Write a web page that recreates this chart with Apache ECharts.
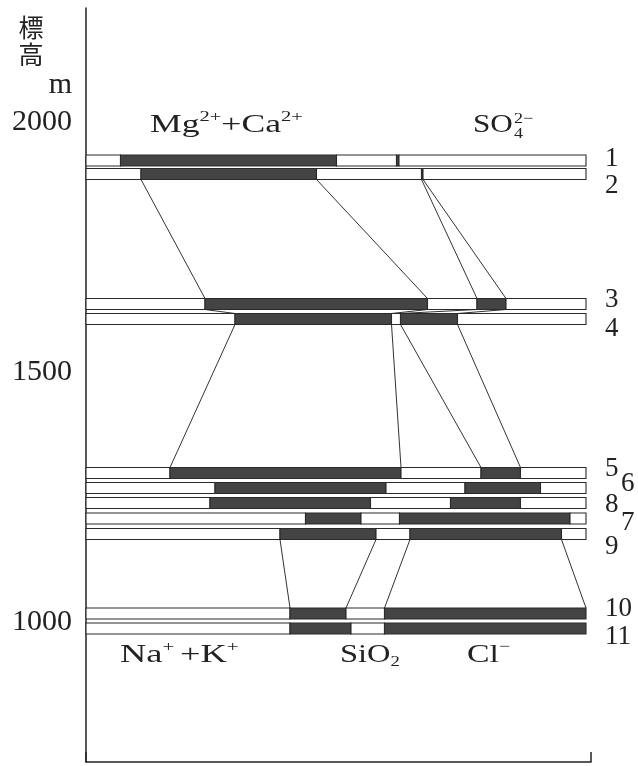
<!DOCTYPE html>
<html><head><meta charset="utf-8">
<script src="https://cdn.jsdelivr.net/npm/echarts@6/dist/echarts.min.js"></script>
<style>html,body{margin:0;padding:0;background:#fff}#c{width:638px;height:766px}</style>
</head><body><div id="c"></div>
<script>
// ---- data ----
const sampleNames = ['1','2','3','4','5','6','8','7','9','10','11'];
const elevations  = [1923,1896,1636,1606,1298,1268,1238,1207,1176,1017,987];
const naK  = [6.9,11.0,23.8,29.8,16.8,25.8,24.8,43.9,38.8,40.8,40.8];
const mgCa = [43.2,35.1,44.5,31.3,46.2,34.2,32.1,11.1,19.2,11.2,12.2];
const siO2 = [12.0,21.0,9.9,1.8,16.0,15.8,16.0,7.7,6.8,7.7,6.7];
const cl   = [0.5,0.3,5.8,11.4,7.9,15.1,14.0,34.1,30.3,40.3,40.3];
const so4  = [37.4,32.6,16.0,25.7,13.1,9.1,13.1,3.2,4.9,0,0];
const yTickLabels = [1000,1500,2000];
const links = [['2','3'],['3','4'],['4','5'],['9','10']];

// ---- style ----
const DARK = '#444', INK = '#222';
const SERIF = '"Liberation Serif","Times New Roman",serif';
const BAR_H = 11;
const labelDx = {'6':16,'7':16};
const labelDy = {'1':-2,'2':12,'3':-4,'4':10,'5':-4,'6':-4,'8':2,'7':4,'9':13,'10':-5,'11':8};

const comps = [naK, mgCa, siO2, cl, so4];
function bounds(i){ let s=0; const b=[0]; comps.forEach(c=>{s+=c[i]; b.push(s);}); return b; }

const segData = [];
sampleNames.forEach((n,i)=>{
  const b = bounds(i);
  for(let k=0;k<5;k++) segData.push([b[k], b[k+1], elevations[i], k, i]);
});
const labelData = sampleNames.map((n,i)=>[100, elevations[i], i]);
const linkData = [];
links.forEach(([u,l])=>{
  const iu = sampleNames.indexOf(u), il = sampleNames.indexOf(l);
  const bu = bounds(iu), bl = bounds(il);
  for(let k=1;k<=4;k++) linkData.push([bu[k], elevations[iu], bl[k], elevations[il]]);
});

const chart = echarts.init(document.getElementById('c'), null, {renderer:'canvas'});
chart.setOption({
  animation:false,
  backgroundColor:'#fff',
  grid:{left:86, top:8, right:47, bottom:4},
  xAxis:{type:'value', min:0, max:101, interval:101,
    axisLine:{show:true, lineStyle:{color:INK, width:1.5}},
    axisTick:{show:true, inside:true, length:10, lineStyle:{color:INK, width:1.5}},
    axisLabel:{show:false}, splitLine:{show:false}},
  yAxis:{type:'value', min:720, max:2228, interval:20,
    axisLine:{show:true, lineStyle:{color:INK, width:1.5}},
    axisTick:{show:false}, splitLine:{show:false},
    axisLabel:{margin:14, color:INK, fontFamily:SERIF, fontSize:30,
      formatter:v=> yTickLabels.includes(v) ? String(v) : ''}},
  series:[
    {type:'custom', name:'links', data:linkData, encode:{x:[0,2], y:[1,3]}, z:1,
     renderItem:(p,api)=>{
       const a = api.coord([api.value(0), api.value(1)]);
       const b = api.coord([api.value(2), api.value(3)]);
       return {type:'line', shape:{x1:a[0], y1:a[1]+BAR_H/2, x2:b[0], y2:b[1]-BAR_H/2},
               style:{stroke:'#333', lineWidth:1}};
     }},
    {type:'custom', name:'bars', data:segData, encode:{x:[0,1], y:2}, z:2,
     renderItem:(p,api)=>{
       const x0=api.value(0), x1=api.value(1), e=api.value(2), k=api.value(3);
       if (x1 - x0 <= 0) return null;
       const a = api.coord([x0,e]), b = api.coord([x1,e]);
       return {type:'rect', shape:{x:a[0], y:a[1]-BAR_H/2, width:b[0]-a[0], height:BAR_H},
               style:{fill: k%2 ? DARK : '#fff', stroke:'#2a2a2a', lineWidth:1.1}};
     }},
    {type:'custom', name:'names', data:labelData, encode:{x:0, y:1}, z:3,
     renderItem:(p,api)=>{
       const i = api.value(2), n = sampleNames[i];
       const a = api.coord([api.value(0), api.value(1)]);
       return {type:'text', x:a[0]+19+(labelDx[n]||0), y:a[1]+(labelDy[n]||0),
               style:{text:n, fill:INK, font:'27px '+SERIF, align:'left', verticalAlign:'middle'}};
     }}
  ],
  graphic:[
    {type:'text', x:31, y:27, style:{text:'標', fill:INK, font:'25px "Noto Sans CJK JP"', align:'center', verticalAlign:'middle'}},
    {type:'text', x:31, y:54, style:{text:'高', fill:INK, font:'25px "Noto Sans CJK JP"', align:'center', verticalAlign:'middle'}},
    {type:'text', x:72, y:85, style:{text:'m', fill:INK, font:'30px '+SERIF, align:'right', verticalAlign:'middle'}},
    {type:'text', x:150, y:125, scaleX:1.37, style:{text:'{b|Mg}{p|2+}{b|+Ca}{p|2+}', fill:INK, align:'left', verticalAlign:'middle',
      rich:{b:{fontSize:26, fontFamily:SERIF, lineHeight:30, fill:INK}, p:{fontSize:15, fontFamily:SERIF, lineHeight:18, verticalAlign:'top', fill:INK}}}},
    {type:'text', x:473, y:125, scaleX:1.2, style:{text:'SO', fill:INK, font:'26px '+SERIF, align:'left', verticalAlign:'middle'}},
    {type:'text', x:514, y:127, scaleX:1.2, style:{text:'2−\n4', fill:INK, font:'15px '+SERIF, lineHeight:15, align:'left', verticalAlign:'middle'}},
    {type:'text', x:120, y:655, scaleX:1.4, style:{text:'{b|Na}{p|+}{b|+K}{p|+}', fill:INK, align:'left', verticalAlign:'middle',
      rich:{b:{fontSize:26, fontFamily:SERIF, lineHeight:30, fill:INK}, p:{fontSize:15, fontFamily:SERIF, lineHeight:18, verticalAlign:'top', fill:INK, padding:[0,4,0,0]}}}},
    {type:'text', x:340, y:655, scaleX:1.25, style:{text:'{b|SiO}{s|2}', fill:INK, align:'left', verticalAlign:'middle',
      rich:{b:{fontSize:26, fontFamily:SERIF, lineHeight:30, fill:INK}, s:{fontSize:15, fontFamily:SERIF, lineHeight:18, verticalAlign:'bottom', fill:INK}}}},
    {type:'text', x:467, y:655, scaleX:1.3, style:{text:'{b|Cl}{p|−}', fill:INK, align:'left', verticalAlign:'middle',
      rich:{b:{fontSize:26, fontFamily:SERIF, lineHeight:30, fill:INK}, p:{fontSize:15, fontFamily:SERIF, lineHeight:18, verticalAlign:'top', fill:INK}}}}
  ]
});
</script></body></html>
